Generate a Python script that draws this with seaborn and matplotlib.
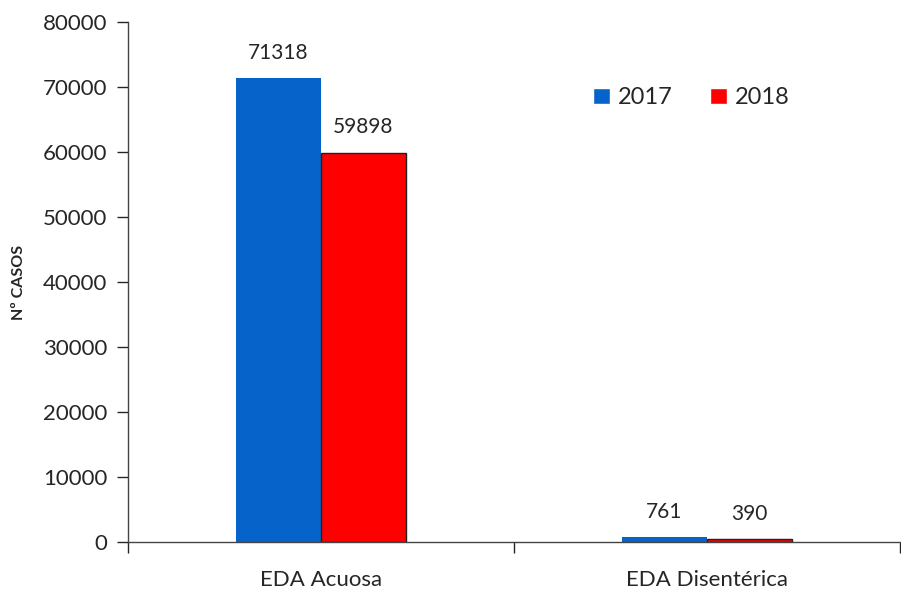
import pandas as pd
import matplotlib.pyplot as plt
import seaborn as sns

categories = ["EDA Acuosa", "EDA Disentérica"]
years = ["2017", "2018"]
cases_2017 = [71318, 761]
cases_2018 = [59898, 390]

df = pd.DataFrame({
    "tipo": categories * 2,
    "anio": [years[0]] * 2 + [years[1]] * 2,
    "casos": cases_2017 + cases_2018,
})

sns.set_style("white")
plt.rcParams["font.family"] = ["Lato", "DejaVu Sans"]

fig = plt.figure(figsize=(9.01, 5.91), dpi=100)
ax = fig.add_axes([128 / 901, 49 / 591, 772 / 901, 520 / 591])

palette = {"2017": "#0563C9", "2018": "#FF0000"}
sns.barplot(data=df, x="tipo", y="casos", hue="anio", palette=palette,
            width=0.44, gap=0, saturation=1, ax=ax)

# blue bars have no edge, red ones a thin dark edge
for container, lbl in zip(ax.containers, years):
    for bar in container:
        if lbl == "2018":
            bar.set_edgecolor("#222222")
            bar.set_linewidth(1.0)
        else:
            bar.set_edgecolor("none")
    ax.bar_label(container, labels=[str(int(b.get_height())) for b in container],
                 padding=11, fontsize=15)

ax.set_ylim(0, 80000)
ax.set_xlim(-0.5, 1.5)
ax.set_yticks(range(0, 80001, 10000))
ax.set_xticks([-0.5, 0.5, 1.5], minor=False)
ax.set_xticks([0, 1], minor=True)
ax.set_xticklabels(["", "", ""])
ax.set_xticklabels(categories, minor=True)
ax.tick_params(axis="x", which="minor", length=0, pad=20, labelsize=16)
ax.tick_params(axis="x", which="major", length=8, width=1, direction="out", bottom=True)
ax.tick_params(axis="y", length=8, width=1, direction="out", left=True, labelsize=16, pad=7)

for s in ["top", "right"]:
    ax.spines[s].set_visible(False)
for s in ["left", "bottom"]:
    ax.spines[s].set_color("#444444")
    ax.spines[s].set_linewidth(1)

ax.set_xlabel("")
ax.set_ylabel("Nº CASOS", fontsize=11.5, fontweight="bold", labelpad=12)

ax.legend(loc="upper left", bbox_to_anchor=(0.575, 0.915), ncol=2, frameon=False,
          fontsize=17, handlelength=0.7, handleheight=0.7, handletextpad=0.35,
          columnspacing=1.6)

fig.savefig("out.png", dpi=100)
